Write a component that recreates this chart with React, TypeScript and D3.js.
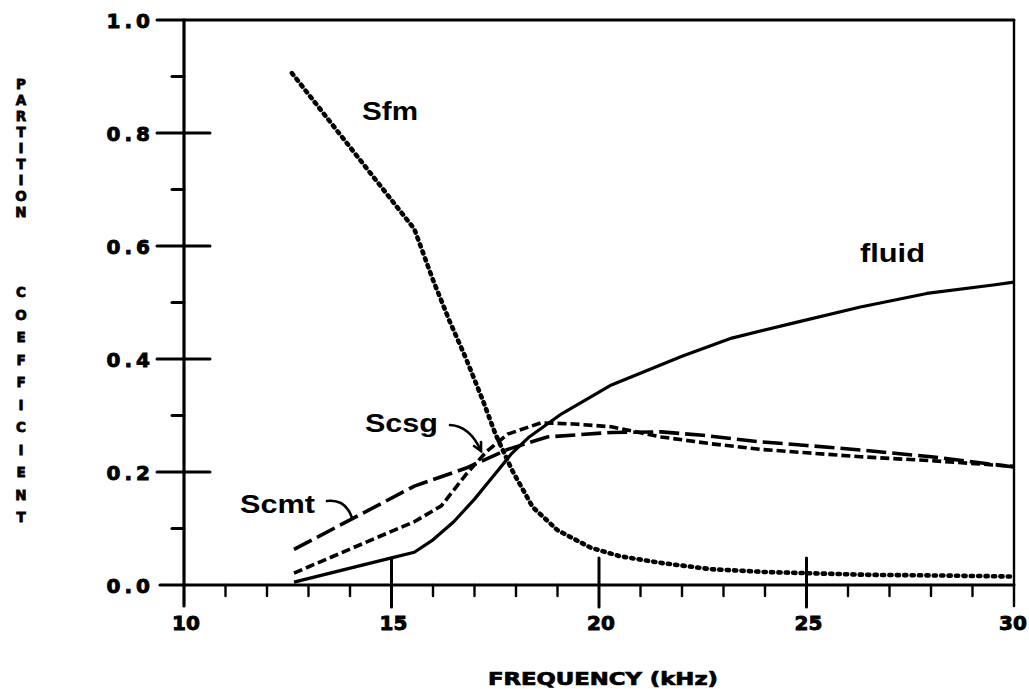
import * as d3 from "d3";

// frequency (kHz) / partition coefficient pairs
const sfm: [number, number][] = [
  [12.6, 0.906], [15.55, 0.63], [16.0, 0.54], [16.4, 0.467], [16.8, 0.4],
  [17.2, 0.327], [17.5, 0.268], [17.9, 0.204], [18.4, 0.138], [19.0, 0.097],
  [19.8, 0.066], [20.5, 0.051], [21.5, 0.039], [22.7, 0.028], [24.0, 0.023],
  [25.0, 0.021], [26.5, 0.018], [28.0, 0.017], [30.0, 0.015],
];
const fluid: [number, number][] = [
  [12.65, 0.005], [15.0, 0.048], [15.55, 0.058], [16.0, 0.08], [16.5, 0.112],
  [17.0, 0.152], [17.5, 0.197], [17.9, 0.233], [18.3, 0.261], [19.1, 0.303],
  [20.3, 0.354], [22.0, 0.405], [23.2, 0.437], [24.7, 0.464], [26.3, 0.492],
  [27.9, 0.516], [29.5, 0.531], [30.0, 0.536],
];
const scsg: [number, number][] = [
  [12.65, 0.021], [15.0, 0.095], [15.55, 0.112], [16.2, 0.14], [16.8, 0.196],
  [17.3, 0.237], [17.8, 0.267], [18.6, 0.287], [19.4, 0.285], [20.3, 0.28],
  [21.5, 0.262], [22.7, 0.25], [23.9, 0.24], [25.0, 0.234], [26.3, 0.227],
  [28.0, 0.22], [30.0, 0.21],
];
const scmt: [number, number][] = [
  [12.65, 0.063], [15.55, 0.175], [16.8, 0.207], [17.8, 0.24], [18.75, 0.262],
  [20.3, 0.27], [21.5, 0.271], [22.5, 0.265], [23.8, 0.254], [25.0, 0.247],
  [26.3, 0.239], [28.0, 0.227], [30.0, 0.209],
];

const xMajor = [10, 15, 20, 25, 30];
const xMinor = d3.range(11, 30).filter((v) => v % 5 !== 0);
const yMajor = [0, 0.2, 0.4, 0.6, 0.8, 1.0];
const yMinor = [0.1, 0.3, 0.5, 0.7, 0.9];
const yTitle1 = "PARTITION";
const yTitle2 = "COEFFICIENT";

const W = 1029;
const H = 689;
const left = 184;
const right = 1014;
const top = 20;
const bottom = 585;

export default function App() {
  const x = d3.scaleLinear().domain([10, 30]).range([left, right]);
  const y = d3.scaleLinear().domain([0, 1]).range([bottom, top]);
  const line = d3
    .line<[number, number]>()
    .x((d) => x(d[0]))
    .y((d) => y(d[1]))
    .curve(d3.curveLinear);

  const tickFont = "'DejaVu Sans', sans-serif";
  const labelFont = "'Liberation Sans', Arial, sans-serif";

  return (
    <svg
      width={W}
      height={H}
      viewBox={`0 0 ${W} ${H}`}
      style={{ position: "absolute", left: 0, top: 0, background: "#fff" }}
    >
      <rect width={W} height={H} fill="#fff" />
      {/* frame */}
      <g stroke="#000" fill="none" strokeLinecap="round">
        <line x1={left} x2={left} y1={top} y2={bottom + 21} strokeWidth={3.2} />
        <line x1={157} x2={right} y1={top} y2={top} strokeWidth={3} />
        <line x1={160} x2={right} y1={bottom} y2={bottom} strokeWidth={3} />
        <line x1={right} x2={right} y1={top} y2={bottom + 21} strokeWidth={2.4} />
        {yMajor
          .filter((v) => v > 0 && v < 1)
          .map((v) => (
            <line key={"ym" + v} x1={157} x2={210} y1={y(v)} y2={y(v)} strokeWidth={3} />
          ))}
        {yMinor.map((v) => (
          <line key={"yn" + v} x1={172} x2={left} y1={y(v)} y2={y(v)} strokeWidth={3} />
        ))}
        {xMajor
          .filter((v) => v > 10 && v < 30)
          .map((v) => (
            <line key={"xm" + v} x1={x(v)} x2={x(v)} y1={bottom - 27} y2={bottom + 22} strokeWidth={3} />
          ))}
        {xMinor.map((v) => (
          <line key={"xn" + v} x1={x(v)} x2={x(v)} y1={bottom} y2={bottom + 11} strokeWidth={2.4} />
        ))}
      </g>

      {/* tick labels */}
      <g
        fontFamily={tickFont}
        fontWeight="bold"
        fontSize={20}
        fill="#000"
        stroke="#000"
        strokeWidth={0.9}
      >
        {yMajor.map((v) => (
          <text key={"yl" + v} x={154} y={y(v) + 7.5} textAnchor="end" letterSpacing={4}>
            {v.toFixed(1)}
          </text>
        ))}
        {xMajor.map((v) => (
          <text key={"xl" + v} x={Math.min(x(v) + 2, 1013)} y={630} textAnchor="middle">
            {v}
          </text>
        ))}
      </g>

      {/* axis titles */}
      <text
        x={488}
        y={685}
        fontFamily={tickFont}
        fontWeight="bold"
        fontSize={17}
        textLength={230}
        lengthAdjust="spacingAndGlyphs"
        stroke="#000"
        strokeWidth={0.7}
      >
        FREQUENCY (kHz)
      </text>
      <g
        fontFamily={tickFont}
        fontWeight="bold"
        fontSize={13.5}
        textAnchor="middle"
        stroke="#000"
        strokeWidth={0.8}
      >
        {yTitle1.split("").map((c, i) => (
          <text key={"p" + i} x={21} y={89 + i * 16}>
            {c}
          </text>
        ))}
        {yTitle2.split("").map((c, i) => (
          <text key={"c" + i} x={21} y={297 + i * 22.5}>
            {c}
          </text>
        ))}
      </g>

      {/* series */}
      <g fill="none" stroke="#000">
        <path d={line(fluid) ?? ""} strokeWidth={3.2} strokeLinejoin="round" />
        <path d={line(scsg) ?? ""} strokeWidth={3.6} strokeDasharray="9 4" />
        <path d={line(scmt) ?? ""} strokeWidth={3.6} strokeDasharray="20 6" />
        <path
          d={line(sfm) ?? ""}
          strokeWidth={4.6}
          strokeDasharray="2.2 5.2"
          strokeLinecap="round"
        />
      </g>

      {/* leaders */}
      <g fill="none" stroke="#000" strokeWidth={2.6} strokeLinecap="round">
        <path d="M450,425 Q470,426 481,451" />
        <path d="M474,446 L481,451 L481,442" />
        <path d="M327,501 Q346,499 352,518" />
      </g>

      {/* series labels */}
      <g fontFamily={labelFont} fontWeight="bold" fontSize={26} fill="#000">
        <text x={362} y={120} textLength={56} lengthAdjust="spacingAndGlyphs">Sfm</text>
        <text x={860} y={262} textLength={65} lengthAdjust="spacingAndGlyphs">fluid</text>
        <text x={365} y={432} textLength={73} lengthAdjust="spacingAndGlyphs">Scsg</text>
        <text x={240} y={513} textLength={75} lengthAdjust="spacingAndGlyphs">Scmt</text>
      </g>
    </svg>
  );
}
